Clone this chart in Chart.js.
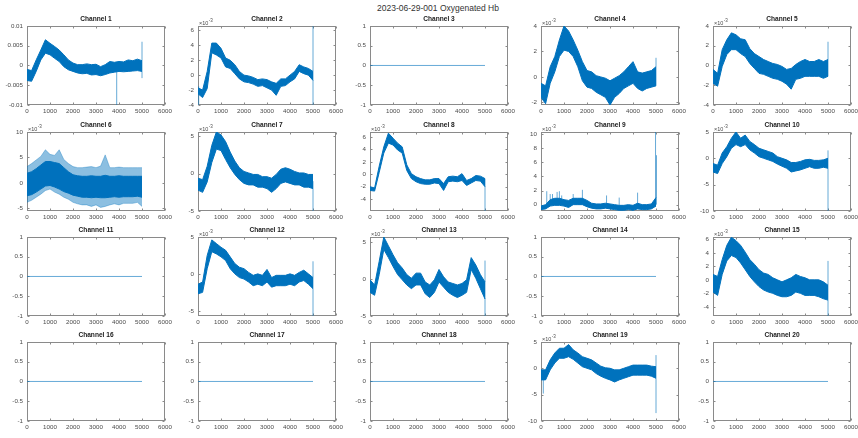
<!DOCTYPE html>
<html><head><meta charset="utf-8">
<script src="https://cdn.jsdelivr.net/npm/chart.js@4.4.0/dist/chart.umd.min.js"></script>
<style>
html,body{margin:0;padding:0;background:#fff;width:858px;height:438px;overflow:hidden;position:relative;}
#maintitle{position:absolute;left:0;top:3px;width:876px;text-align:center;font:8.5px "Liberation Sans",Arial,sans-serif;line-height:10px;color:#333;}
canvas{position:absolute;}
</style></head><body>
<div id="maintitle">2023-06-29-001 Oxygenated Hb</div>
<script>
// ---------- DATA (sample index) ----------
const sampleIdx = [0,200,400,600,800,1000,1200,1400,1600,1800,2000,2200,2400,2600,2800,3000,3200,3400,3600,3800,4000,4200,4400,4600,4800,5000];
const xTicks = [0,1000,2000,3000,4000,5000,6000];
const flatX = [0,5000];
const flatY = [0,0];
const flatTicks = [-1,-0.5,0,0.5,1];
const flatRange = [-1,1];

// Channel 1 (raw units)
const ch1Hi = [-0.0010,-0.0013,0.0014,0.0039,0.0065,0.0056,0.0048,0.0039,0.0027,0.0014,0.0006,0.0002,0.0002,0.0004,0.0002,0.0003,-0.0003,0.0002,0.0010,0.0008,0.0010,0.0009,0.0014,0.0012,0.0016,0.0012];
const ch1Lo = [-0.0038,-0.0040,-0.0015,0.0014,0.0031,0.0027,0.0018,0.0010,-0.0003,-0.0011,-0.0015,-0.0019,-0.0021,-0.0020,-0.0024,-0.0023,-0.0026,-0.0023,-0.0019,-0.0017,-0.0015,-0.0016,-0.0015,-0.0014,-0.0013,-0.0015];
const ch1Spikes = [[3900,-0.01,-0.001],[5000,-0.0032,0.006]];
const ch1Ticks = [-0.01,-0.005,0,0.005,0.01];
const ch1Range = [-0.01,0.01];

// Channels below are in units of 10^-3
const ch2Hi = [-1.7,-2.0,0.5,4.3,4.3,3.6,2.3,2.0,1.4,0.5,0.0,-0.1,-0.3,-0.6,-0.5,-0.6,-0.9,-1.1,-0.5,-0.5,0.0,0.5,1.4,1.1,0.9,0.5];
const ch2Lo = [-2.5,-3.0,-1.8,3.0,2.7,2.3,1.1,0.9,0.2,-0.5,-0.9,-1.0,-1.2,-1.5,-1.4,-1.7,-2.0,-2.7,-1.5,-1.4,-0.9,-0.5,0.5,0.2,0.0,-0.7];
const ch2Spikes = [[30,-4,-1.5],[5000,-4,6.6]];
const ch2Ticks = [-4,-2,0,2,4,6];
const ch2Range = [-4,6.6];

const ch4Hi = [-0.5,-0.7,0.8,1.6,2.9,4.0,3.6,2.9,2.1,1.2,0.5,0.4,0.1,0.0,-0.1,-0.3,-0.1,0.1,0.4,0.8,1.2,0.4,0.3,0.4,0.5,0.8];
const ch4Lo = [-1.6,-2.1,-0.5,0.4,1.6,2.1,2.0,1.6,0.8,-0.3,-0.8,-0.9,-1.2,-1.4,-1.6,-2.2,-1.6,-1.3,-0.9,-0.7,-0.5,-0.9,-1.1,-0.9,-0.8,-0.7];
const ch4Spikes = [[5000,-0.7,1.5]];
const ch4Ticks = [-2,0,2,4];
const ch4Range = [-2.2,4];

const ch5Hi = [-0.4,-0.8,1.6,2.6,3.3,3.1,2.7,2.6,1.7,1.2,0.9,0.6,0.4,0.2,0.1,-0.1,-0.4,-0.3,0.1,0.4,0.6,0.4,0.4,0.6,0.4,0.6];
const ch5Lo = [-1.8,-2.1,-0.1,1.1,1.6,1.6,1.2,0.9,0.2,-0.3,-0.8,-0.9,-1.1,-1.3,-1.4,-1.6,-1.9,-2.4,-1.4,-1.3,-1.1,-1.1,-1.1,-1.1,-1.3,-1.1];
const ch5Spikes = [[5000,-1.1,2.4]];
const ch5Ticks = [-4,-2,0,2,4];
const ch5Range = [-4,4];

// Channel 6: outer (sparse noise peaks) and dense core
const ch6Hi = [3.2,3.8,4.5,5.2,6.5,5.6,5.4,6.5,4.6,3.8,3.2,3.0,3.0,3.1,3.2,3.0,3.3,5.5,3.0,3.0,3.1,3.0,3.0,3.0,3.0,3.0];
const ch6Lo = [-3.8,-3.4,-2.8,-2.2,-1.5,-1.2,-1.8,-2.2,-2.8,-3.2,-3.8,-4.1,-4.3,-4.3,-4.6,-4.3,-4.8,-4.6,-4.3,-4.1,-4.3,-4.0,-4.0,-4.0,-3.8,-4.6];
const ch6CoreHi = [1.9,2.2,2.8,3.5,4.2,4.2,4.0,3.8,3.0,2.2,1.6,1.4,1.3,1.3,1.4,1.3,1.3,1.5,1.3,1.3,1.4,1.3,1.3,1.3,1.3,1.3];
const ch6CoreLo = [-2.5,-2.3,-1.8,-1.2,-0.6,-0.5,-0.8,-1.2,-1.7,-2.0,-2.4,-2.6,-2.8,-2.8,-2.9,-2.8,-2.9,-2.9,-2.8,-2.7,-2.8,-2.7,-2.7,-2.7,-2.6,-2.8];
const ch6Spikes = [];
const ch6Ticks = [-5,0,5,10];
const ch6Range = [-5.5,10];

const ch7Hi = [-0.6,-0.8,1.0,3.8,5.6,5.2,4.3,2.9,1.7,0.8,0.3,0.1,-0.1,-0.1,-0.4,-0.4,-0.6,-0.1,0.6,0.8,0.6,0.3,0.1,0.1,-0.1,-0.1];
const ch7Lo = [-2.2,-2.5,-1.1,1.5,3.3,3.1,1.9,0.8,-0.1,-0.8,-1.3,-1.5,-1.5,-1.8,-1.8,-2.0,-2.5,-2.0,-1.3,-1.1,-1.3,-1.5,-1.5,-1.8,-1.8,-2.0];
const ch7Spikes = [[5000,-5,-1]];
const ch7Ticks = [-5,0,5];
const ch7Range = [-5,5.6];

const ch8Hi = [-2.0,-2.2,1.3,4.4,6.6,5.8,5.0,4.4,1.5,0.1,-0.4,-0.7,-0.9,-0.9,-0.7,-0.7,-1.5,-0.4,-0.3,-0.4,0.1,-1.0,-0.7,-0.2,-0.3,-0.7];
const ch8Lo = [-2.6,-2.7,0.3,3.4,5.0,4.7,3.9,3.4,0.6,-0.7,-1.2,-1.5,-1.6,-1.6,-1.4,-1.5,-2.6,-1.2,-1.1,-1.2,-1.0,-1.8,-1.4,-1.0,-1.1,-2.0];
const ch8Spikes = [[5000,-5.9,-0.7]];
const ch8Ticks = [-4,-2,0,2,4,6];
const ch8Range = [-5.9,6.8];

const ch9Hi = [-0.2,0.0,0.7,0.9,0.9,0.7,0.6,0.9,0.9,0.9,0.6,0.2,0.1,0.1,0.2,0.1,0.0,-0.1,-0.1,0.0,-0.1,0.2,0.0,0.0,0.1,1.0];
const ch9Lo = [-0.7,-0.6,-0.2,-0.1,-0.1,-0.2,-0.4,0.0,0.0,0.0,-0.3,-0.5,-0.6,-0.6,-0.5,-0.6,-0.7,-0.8,-0.8,-0.7,-0.8,-0.6,-0.7,-0.7,-0.6,-0.2];
const ch9Spikes = [[250,0,1.9],[400,0,1.5],[500,0,1.5],[700,0,1.8],[800,0,1.9],[900,0,1.3],[1400,0,1.5],[1800,0.2,2.1],[2850,-0.3,1.3],[3400,-0.5,1.0],[4200,-0.3,1.7],[4980,0,10.3],[5020,0,7.0]];
const ch9Ticks = [0,2,4,6,8,10];
const ch9Range = [-0.9,10.3];

const ch10Hi = [-1.0,-1.3,1.0,2.2,3.8,5.0,3.8,4.4,3.2,2.6,1.9,1.6,1.3,1.0,0.3,0.0,-0.3,-0.8,-0.8,-0.6,-0.3,-0.2,-0.4,-0.4,-0.3,0.0];
const ch10Lo = [-2.6,-2.9,-1.0,0.3,1.9,2.6,2.2,2.6,1.6,1.0,0.3,0.0,-0.3,-0.6,-1.1,-1.5,-1.9,-2.6,-2.4,-2.2,-1.9,-1.6,-1.9,-1.9,-1.7,-1.9];
const ch10Spikes = [[5000,-10,1.5]];
const ch10Ticks = [-10,-5,0,5];
const ch10Range = [-10,5];

const ch12Hi = [-1.4,-1.1,2.5,4.6,4.1,3.6,3.2,2.3,1.4,0.9,0.7,0.2,-0.2,0.0,-0.2,0.6,-0.5,-0.2,-0.2,-0.2,0.0,-0.2,0.2,0.5,0.0,-0.5];
const ch12Lo = [-2.7,-2.5,0.7,3.0,2.7,2.3,1.8,0.7,0.0,-0.5,-0.7,-1.1,-1.6,-1.4,-1.6,-1.1,-1.8,-1.6,-1.6,-1.6,-1.4,-1.6,-1.1,-0.9,-1.4,-2.0];
const ch12Spikes = [[5000,-5.7,1.7]];
const ch12Ticks = [-5,0,5];
const ch12Range = [-5.7,5];

const ch13Hi = [-0.1,-0.8,2.4,5.7,4.5,3.3,2.2,1.5,0.6,0.1,0.8,0.8,-0.4,-0.8,-0.1,1.3,0.3,-0.4,-0.6,-0.8,-0.6,-0.1,2.9,1.9,0.6,-0.4];
const ch13Lo = [-1.8,-2.2,0.6,4.0,2.9,1.7,0.6,-0.1,-0.8,-1.3,-0.8,-0.8,-2.0,-2.5,-1.8,-0.4,-1.1,-1.8,-2.2,-2.5,-2.2,-1.8,1.3,0.1,-1.3,-2.7];
const ch13Spikes = [[5000,-5,2.5]];
const ch13Ticks = [-5,0,5];
const ch13Range = [-5,5.7];

const ch15Hi = [0.8,0.5,3.0,5.1,6.3,5.8,5.1,4.1,3.0,2.3,1.5,1.0,0.8,0.3,0.0,-0.3,0.0,0.3,0.8,0.5,0.3,0.0,0.0,0.0,-0.3,-0.8];
const ch15Lo = [-1.8,-2.3,0.8,2.8,3.6,3.3,2.5,1.5,0.5,-0.3,-1.0,-1.5,-1.8,-2.0,-2.3,-2.5,-2.5,-2.3,-1.8,-2.0,-2.3,-2.3,-2.3,-2.5,-2.8,-3.0];
const ch15Spikes = [[5000,-5.35,2.8]];
const ch15Ticks = [-4,-2,0,2,4,6];
const ch15Range = [-5.35,6.35];

const ch19Hi = [-0.3,-0.3,1.6,2.9,3.8,3.8,4.5,3.5,2.9,2.2,1.9,1.6,1.0,0.4,0.1,0.0,-0.3,-0.3,0.0,0.3,0.6,0.6,0.6,0.6,0.4,0.3];
const ch19Lo = [-2.2,-2.2,-0.3,1.0,1.9,1.9,2.2,1.7,1.0,0.3,0.0,-0.3,-1.0,-1.5,-1.9,-2.2,-2.6,-2.2,-1.9,-1.6,-1.3,-1.3,-1.3,-1.3,-1.5,-1.9];
const ch19Spikes = [[100,-4.8,-1],[5000,-8.5,2.5]];
const ch19Ticks = [-10,-5,0,5];
const ch19Range = [-10,5];

const channels = [
  {n:1, hi:ch1Hi, lo:ch1Lo, spikes:ch1Spikes, ticks:ch1Ticks, range:ch1Range, exp:false},
  {n:2, hi:ch2Hi, lo:ch2Lo, spikes:ch2Spikes, ticks:ch2Ticks, range:ch2Range, exp:true},
  {n:3, flat:true},
  {n:4, hi:ch4Hi, lo:ch4Lo, spikes:ch4Spikes, ticks:ch4Ticks, range:ch4Range, exp:true},
  {n:5, hi:ch5Hi, lo:ch5Lo, spikes:ch5Spikes, ticks:ch5Ticks, range:ch5Range, exp:true},
  {n:6, hi:ch6Hi, lo:ch6Lo, coreHi:ch6CoreHi, coreLo:ch6CoreLo, spikes:ch6Spikes, ticks:ch6Ticks, range:ch6Range, exp:true},
  {n:7, hi:ch7Hi, lo:ch7Lo, spikes:ch7Spikes, ticks:ch7Ticks, range:ch7Range, exp:true},
  {n:8, hi:ch8Hi, lo:ch8Lo, spikes:ch8Spikes, ticks:ch8Ticks, range:ch8Range, exp:true},
  {n:9, hi:ch9Hi, lo:ch9Lo, spikes:ch9Spikes, ticks:ch9Ticks, range:ch9Range, exp:true},
  {n:10, hi:ch10Hi, lo:ch10Lo, spikes:ch10Spikes, ticks:ch10Ticks, range:ch10Range, exp:true},
  {n:11, flat:true},
  {n:12, hi:ch12Hi, lo:ch12Lo, spikes:ch12Spikes, ticks:ch12Ticks, range:ch12Range, exp:true},
  {n:13, hi:ch13Hi, lo:ch13Lo, spikes:ch13Spikes, ticks:ch13Ticks, range:ch13Range, exp:true},
  {n:14, flat:true},
  {n:15, hi:ch15Hi, lo:ch15Lo, spikes:ch15Spikes, ticks:ch15Ticks, range:ch15Range, exp:true},
  {n:16, flat:true},
  {n:17, flat:true},
  {n:18, flat:true},
  {n:19, hi:ch19Hi, lo:ch19Lo, spikes:ch19Spikes, ticks:ch19Ticks, range:ch19Range, exp:true},
  {n:20, flat:true}
];

// ---------- LAYOUT / STYLE ----------
const COLS = [27,198,370,541,713];
const ROWS = [26,132,237,342];
const PW = 138, PH = 79, PADL = 28, PADR = 12, PADT = 22, PADB = 14;
const FONT = '"Liberation Sans", Arial, sans-serif';
const BLUE = '#0072BD';
const LIGHT = 'rgba(0,114,189,0.6)';
const LABEL = '#4a4a4a';
const AXIS = '#8a8a8a';

const boxPlugin = {
  id: 'matlabBox',
  beforeDatasetsDraw(chart) {
    const {ctx, chartArea: a, scales} = chart;
    ctx.save();
    ctx.strokeStyle = AXIS;
    ctx.lineWidth = 1;
    const L = Math.round(a.left) + 0.5, R = Math.round(a.right) - 0.5;
    const T = Math.round(a.top) + 0.5, B = Math.round(a.bottom) - 0.5;
    ctx.strokeRect(L, T, R - L, B - T);
    ctx.beginPath();
    scales.x.ticks.forEach(t => {
      const px = Math.round(scales.x.getPixelForValue(t.value)) + 0.5;
      ctx.moveTo(px, B); ctx.lineTo(px, B - 2);
      ctx.moveTo(px, T); ctx.lineTo(px, T + 2);
    });
    scales.y.ticks.forEach(t => {
      const py = Math.round(scales.y.getPixelForValue(t.value)) + 0.5;
      ctx.moveTo(L, py); ctx.lineTo(L + 2, py);
      ctx.moveTo(R, py); ctx.lineTo(R - 2, py);
    });
    ctx.stroke();
    ctx.restore();
  },
  afterDraw(chart, args, opts) {
    if (!opts.exp) return;
    const {ctx, chartArea: a} = chart;
    ctx.save();
    ctx.fillStyle = LABEL;
    ctx.textBaseline = 'alphabetic';
    ctx.textAlign = 'left';
    ctx.font = '5.5px ' + FONT;
    const base = a.top - 1;
    ctx.fillText('×10', a.left + 1, base);
    const w = ctx.measureText('×10').width;
    ctx.font = '4.5px ' + FONT;
    ctx.fillText('-3', a.left + 1 + w + 0.3, base - 3);
    ctx.restore();
  }
};

function pts(xs, ys) { return xs.map((x, i) => ({x: x, y: ys[i]})); }

channels.forEach((cfg, idx) => {
  const r = Math.floor(idx / 5), c = idx % 5;
  const W = PW + PADL + PADR, H = PH + PADT + PADB;
  const cv = document.createElement('canvas');
  cv.width = W; cv.height = H;
  cv.style.width = W + 'px'; cv.style.height = H + 'px';
  cv.style.left = (COLS[c] - PADL) + 'px';
  cv.style.top = (ROWS[r] - PADT) + 'px';
  document.body.appendChild(cv);

  const ticks = cfg.flat ? flatTicks : cfg.ticks;
  const range = cfg.flat ? flatRange : cfg.range;
  const datasets = [];
  if (cfg.flat) {
    datasets.push({data: pts(flatX, flatY), borderColor: LIGHT, borderWidth: 1, pointRadius: 0, fill: false});
  } else if (cfg.coreHi) {
    datasets.push({data: pts(sampleIdx, cfg.lo), borderColor: 'rgba(0,114,189,0.35)', borderWidth: 1, pointRadius: 0, fill: false});
    datasets.push({data: pts(sampleIdx, cfg.hi), borderColor: 'rgba(0,114,189,0.35)', borderWidth: 1, pointRadius: 0, fill: '-1', backgroundColor: 'rgba(0,114,189,0.45)'});
    datasets.push({data: pts(sampleIdx, cfg.coreLo), borderColor: BLUE, borderWidth: 1, pointRadius: 0, fill: false});
    datasets.push({data: pts(sampleIdx, cfg.coreHi), borderColor: BLUE, borderWidth: 1, pointRadius: 0, fill: '-1', backgroundColor: BLUE});
  } else {
    datasets.push({data: pts(sampleIdx, cfg.lo), borderColor: BLUE, borderWidth: 1, pointRadius: 0, fill: false});
    datasets.push({data: pts(sampleIdx, cfg.hi), borderColor: BLUE, borderWidth: 1, pointRadius: 0, fill: '-1', backgroundColor: BLUE});
  }
  if (!cfg.flat) {
    cfg.spikes.forEach(s => {
      datasets.push({data: [{x: s[0], y: s[1]}, {x: s[0], y: s[2]}], borderColor: LIGHT, borderWidth: 1, pointRadius: 0, fill: false});
    });
  }

  new Chart(cv, {
    type: 'line',
    data: {datasets: datasets},
    plugins: [boxPlugin],
    options: {
      responsive: false,
      animation: false,
      devicePixelRatio: 1,
      events: [],
      layout: {padding: {top: 11.5, left: 0, right: PADR, bottom: 0}},
      elements: {line: {tension: 0}},
      plugins: {
        legend: {display: false},
        tooltip: {enabled: false},
        title: {display: true, text: 'Channel ' + cfg.n, fullSize: false, color: '#1a1a1a',
                font: {family: FONT, size: 6.6, weight: 'bold', lineHeight: 1.2}, padding: {top: 0, bottom: 2.5}},
        matlabBox: {exp: !!cfg.exp}
      },
      scales: {
        x: {
          type: 'linear', min: 0, max: 6000,
          afterBuildTicks: s => { s.ticks = xTicks.map(v => ({value: v})); },
          afterFit: s => { s.height = PADB; },
          grid: {display: false, drawTicks: false},
          border: {display: false},
          ticks: {color: LABEL, font: {family: FONT, size: 6.2}, padding: 3, maxRotation: 0, autoSkip: false, callback: v => String(v)}
        },
        y: {
          type: 'linear', min: range[0], max: range[1],
          afterBuildTicks: s => { s.ticks = ticks.map(v => ({value: v})); },
          afterFit: s => { s.width = PADL; },
          grid: {display: false, drawTicks: false},
          border: {display: false},
          ticks: {color: LABEL, font: {family: FONT, size: 6.2}, padding: 4, autoSkip: false, callback: v => String(v)}
        }
      }
    }
  });
});
</script>
</body></html>
